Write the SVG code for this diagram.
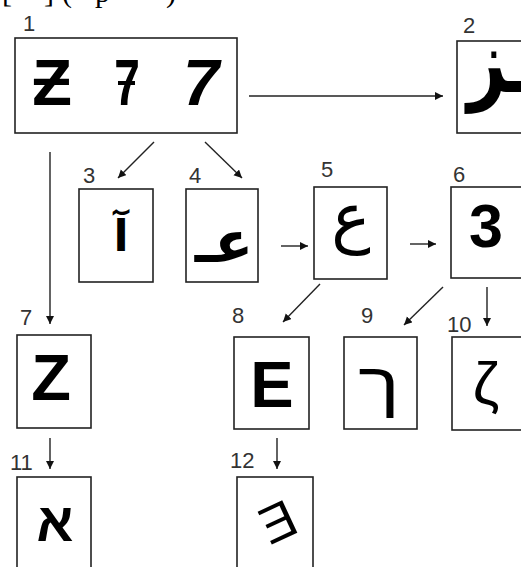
<svg xmlns="http://www.w3.org/2000/svg" width="521" height="567" viewBox="0 0 521 567">
<style>
.box{fill:#fff;stroke:#222;stroke-width:1.6}
.lbl{font-family:"Liberation Sans",Arial,sans-serif;font-size:22px;fill:#333}
.g{font-family:"Liberation Sans",Arial,sans-serif;fill:#000;text-anchor:middle}
.ar{font-family:"DejaVu Sans",sans-serif;fill:#000;text-anchor:middle}
.he{font-family:"Liberation Sans","DejaVu Sans",sans-serif;fill:#000;text-anchor:middle}
.con line{stroke:#222;stroke-width:1.4;marker-end:url(#ah)}
</style>
<defs>
<marker id="ah" markerWidth="9" markerHeight="9" refX="8" refY="4" orient="auto" markerUnits="userSpaceOnUse">
<path d="M0,0 L8,4 L0,8 z" fill="#111"/>
</marker>
</defs>
<rect width="521" height="567" fill="#fff"/>
<text x="2 44 62 95 166" y="2" font-family="Liberation Serif,serif" font-size="30" fill="#000">[](p)</text>

<g id="connectors" class="con">
<line x1="249" y1="96" x2="443" y2="96"/>
<line x1="154" y1="142" x2="118" y2="178"/>
<line x1="205" y1="142" x2="242" y2="178"/>
<line x1="50" y1="152" x2="50" y2="324"/>
<line x1="281" y1="246" x2="308" y2="246"/>
<line x1="410" y1="244" x2="436" y2="244"/>
<line x1="487" y1="287" x2="487" y2="326"/>
<line x1="320" y1="284" x2="283" y2="322"/>
<line x1="443" y1="287" x2="404" y2="325"/>
<line x1="50" y1="438" x2="50" y2="469"/>
<line x1="277" y1="438" x2="277" y2="469"/>
</g>

<g id="n1">
<rect class="box" x="15" y="38" width="222" height="95"/>
<text class="lbl" x="23" y="31">1</text>
<text class="g" x="52" y="105" font-size="65" font-weight="bold">Ƶ</text>
<text class="g" x="127" y="105" font-size="64" font-weight="bold" transform="translate(127 0) scale(0.72 1) translate(-127 0)">7</text>
<rect x="118" y="81" width="17" height="4" fill="#000"/>
<text class="g" x="201" y="105" font-size="65" font-weight="bold" font-style="italic">7</text>
</g>
<g id="n2">
<rect class="box" x="457" y="41" width="80" height="92"/>
<text class="lbl" x="463" y="33">2</text>
<text class="ar" x="500" y="92" font-size="68" font-weight="bold" transform="translate(0 92) scale(1 1.3) translate(0 -92)">ـز</text>
</g>
<g id="n3">
<rect class="box" x="79" y="189" width="74" height="93"/>
<text class="lbl" x="83" y="183">3</text>
<text class="ar" x="121" y="251" font-size="44" font-weight="bold">آ</text>
</g>
<g id="n4">
<rect class="box" x="186" y="189" width="72" height="93"/>
<text class="lbl" x="189" y="183">4</text>
<text class="ar" x="224" y="262" font-size="57" font-weight="bold">عـ</text>
</g>
<g id="n5">
<rect class="box" x="314" y="187" width="73" height="92"/>
<text class="lbl" x="321" y="177">5</text>
<text class="ar" x="351" y="240" font-size="66">ع</text>
</g>
<g id="n6">
<rect class="box" x="451" y="187" width="80" height="91"/>
<text class="lbl" x="453" y="182">6</text>
<text class="g" x="486" y="247" font-size="61" font-weight="bold">3</text>
</g>
<g id="n7">
<rect class="box" x="17" y="335" width="74" height="93"/>
<text class="lbl" x="20" y="325">7</text>
<text class="g" x="51" y="400" font-size="65" font-weight="bold">Z</text>
</g>
<g id="n8">
<rect class="box" x="234" y="337" width="75" height="92"/>
<text class="lbl" x="232" y="323">8</text>
<text class="g" x="272" y="407" font-size="65" font-weight="bold">E</text>
</g>
<g id="n9">
<rect class="box" x="344" y="337" width="73" height="92"/>
<text class="lbl" x="361" y="323">9</text>
<text class="he" x="379" y="406" font-size="62" transform="translate(379 0) scale(1.25 1) translate(-379 0)">ך</text>
</g>
<g id="n10">
<rect class="box" x="452" y="337" width="80" height="93"/>
<text class="lbl" x="447" y="332">10</text>
<text class="g" x="486" y="404" font-size="60">ζ</text>
</g>
<g id="n11">
<rect class="box" x="17" y="477" width="74" height="100"/>
<text class="lbl" x="10" y="470">11</text>
<text class="he" x="55" y="541" font-size="54" font-weight="bold">א</text>
</g>
<g id="n12">
<rect class="box" x="237" y="477" width="76" height="100"/>
<text class="lbl" x="230" y="468">12</text>
<text class="g" x="277" y="540" font-size="52" transform="rotate(-25 277 520)">Ǝ</text>
</g>
</svg>
